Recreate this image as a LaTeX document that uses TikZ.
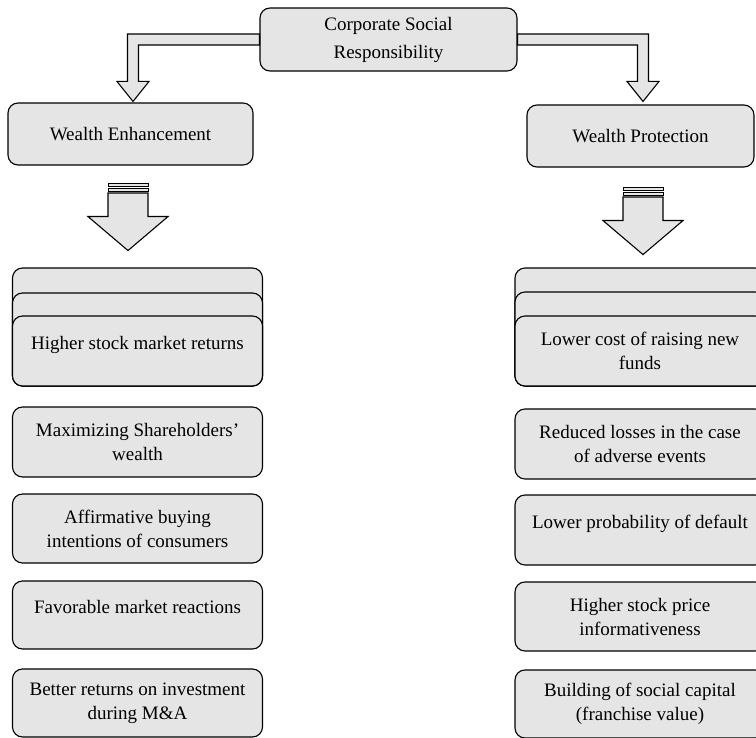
\documentclass[tikz,border=0pt]{standalone}
\usepackage{fontspec}
\setmainfont{Liberation Serif}
\usepackage{tikz}
\usetikzlibrary{calc,positioning}
\definecolor{grisclaro}{rgb}{0.90, 0.90, 0.90}
\tikzset{
  caja/.style={
    rounded corners=10pt,
    draw=black,
    line width=1.1pt,
    fill=grisclaro,
    align=center,
    minimum width=250pt,
    minimum height=70pt,
    inner sep=2pt,
    font=\fontsize{19}{24}\selectfont
  },
  unalinea/.style={
    text depth=16pt
  },
  flecha/.style={
    draw=black,
    line width=1.1pt,
    fill=grisclaro,
    line join=miter
  },
  rayada/.pic={
    \draw[flecha, line width=.7pt] (-20,0) rectangle (20,2.5);
    \draw[flecha, line width=.7pt] (-20,4.5) rectangle (20,7.5);
    \draw[flecha] (-20,9.5) -- (-20,33) -- (-40,33) -- (0,67) -- (40,33) -- (20,33) -- (20,9.5) -- cycle;
  }
}

\begin{document}
\begin{tikzpicture}[x=1pt,y=-1pt]
\clip (0,0) rectangle (756,738);
\node[caja, minimum width=257pt, minimum height=63pt, font=\fontsize{19}{28}\selectfont] (csr) at (388.5,39.5) {Corporate Social\\Responsibility};
\node[caja, minimum width=245pt, minimum height=62pt] (we) at (130.5,134) {Wealth Enhancement};
\node[caja, minimum width=227pt, minimum height=62pt] (wp) at (640.5,136) {Wealth Protection};

\draw[flecha] ($(csr.west)+(0,-5.5)$) -| ($(we.north)+(-3,-21)$) -- ($(we.north)+(-13.5,-21)$) -- ($(we.north)+(2.5,-1)$) -- ($(we.north)+(18.5,-21)$) -- ($(we.north)+(8,-21)$) |- ($(csr.west)+(0,5.5)$) -- cycle;
\draw[flecha] ($(csr.east)+(0,-5.5)$) -| ($(wp.north)+(8,-23)$) -- ($(wp.north)+(18.5,-23)$) -- ($(wp.north)+(2.5,-3)$) -- ($(wp.north)+(-13.5,-23)$) -- ($(wp.north)+(-3,-23)$) |- ($(csr.east)+(0,5.5)$) -- cycle;

\pic at ($(we.south)+(-2.5,18)$) {rayada};
\pic at ($(wp.south)+(2.5,20)$) {rayada};

\node[caja, minimum height=118pt] (hsr3) at (137.5,327) {};
\node[caja, minimum height=93pt] (hsr2) at (137.5,339.5) {};
\node[caja, unalinea] (hsr) at (137.5,351) {Higher stock market returns};
\node[caja] (msw) at (137.5,442) {Maximizing Shareholders'\\wealth};
\node[caja, minimum height=69pt] (abi) at (137.5,528.5) {Affirmative buying\\intentions of consumers};
\node[caja, unalinea, minimum height=68pt] (fmr) at (137.5,615) {Favorable market reactions};
\node[caja, minimum height=68pt] (bri) at (137.5,703) {Better returns on investment\\during M\&A};

\node[caja, minimum height=118pt] (lcf3) at (640,327) {};
\node[caja, minimum height=94pt] (lcf2) at (640,339) {};
\node[caja] (lcf) at (640,351) {Lower cost of raising new\\funds};
\node[caja] (rla) at (640,444) {Reduced losses in the case\\of adverse events};
\node[caja, unalinea] (lpd) at (640,530) {Lower probability of default};
\node[caja, minimum height=69pt] (hsp) at (640,616.5) {Higher stock price\\informativeness};
\node[caja, minimum height=68pt] (bsc) at (640,704) {Building of social capital\\(franchise value)};
\end{tikzpicture}
\end{document}
